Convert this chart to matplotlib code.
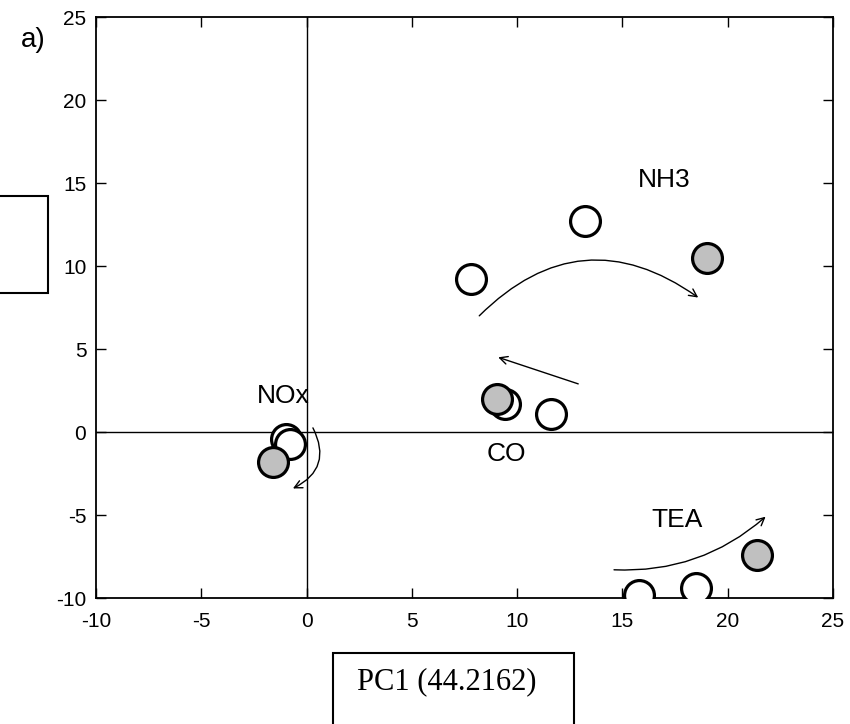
import matplotlib
matplotlib.use('Agg')
import matplotlib.pyplot as plt
from matplotlib.patches import Rectangle

plt.rcParams['font.family'] = ['Liberation Sans', 'DejaVu Sans']
plt.rcParams['axes.unicode_minus'] = False

# scores: open circles (earlier samples) and grey ones (last sample)
open_x = [7.8, 13.2, 9.4, 11.6, -1.0, -0.8, 15.8, 18.5]
open_y = [9.2, 12.7, 1.7, 1.1, -0.4, -0.7, -9.8, -9.4]
grey_x = [19.0, 9.05, -1.6, 21.4]
grey_y = [10.5, 2.0, -1.8, -7.4]

labels = ['NH3', 'NOx', 'CO', 'TEA']
label_x = [17.0, -1.1, 9.5, 17.6]
label_y = [15.2, 2.2, -1.3, -5.3]

# arrows: start, end, curvature
arrow_start = [(8.2, 7.0), (12.9, 2.9), (0.3, 0.25), (14.6, -8.3)]
arrow_end = [(18.6, 8.1), (9.1, 4.5), (-0.65, -3.4), (21.8, -5.1)]
arrow_rad = [-0.42, 0.0, -0.5, 0.2]

fig = plt.figure(figsize=(8.5, 7.24), dpi=100)
ax = fig.add_axes([0.113, 0.174, 0.867, 0.8025])

ax.axhline(0, color='black', lw=1)
ax.axvline(0, color='black', lw=1)

ax.plot(open_x, open_y, 'o', ms=21.5, mfc='white', mec='black', mew=2.3, zorder=3)
ax.plot(grey_x, grey_y, 'o', ms=21.5, mfc='#c0c0c0', mec='black', mew=2.3, zorder=4)

for t, x, y in zip(labels, label_x, label_y):
    ax.text(x, y, t, fontsize=19, ha='center', va='center')

for s, e, r in zip(arrow_start, arrow_end, arrow_rad):
    ax.annotate('', xy=e, xytext=s,
                arrowprops=dict(arrowstyle='->', lw=1, color='black',
                                connectionstyle='arc3,rad=%s' % r,
                                mutation_scale=14, shrinkA=0, shrinkB=0))

ax.set_xlim(-10, 25)
ax.set_ylim(-10, 25)
ax.set_xticks(range(-10, 26, 5))
ax.set_yticks(range(-10, 26, 5))
ax.tick_params(direction='in', length=7, width=1, labelsize=15, top=True, right=True, pad=7)
ax.tick_params(axis='x', pad=10)
for sp in ax.spines.values():
    sp.set_linewidth(1.3)

fig.text(0.024, 0.945, 'a)', fontsize=20, ha='left', va='center')

# boxes around axis titles
fig.patches.append(Rectangle((-0.05, 0.595), 0.1065, 0.134, transform=fig.transFigure,
                             fill=False, lw=1.5, ec='black'))
fig.patches.append(Rectangle((0.392, -0.05), 0.283, 0.148, transform=fig.transFigure,
                             fill=False, lw=1.5, ec='black'))
fig.text(0.526, 0.058, 'PC1 (44.2162)', fontsize=22, family='Liberation Serif',
         ha='center', va='center')

fig.savefig('out.png', dpi=100)
